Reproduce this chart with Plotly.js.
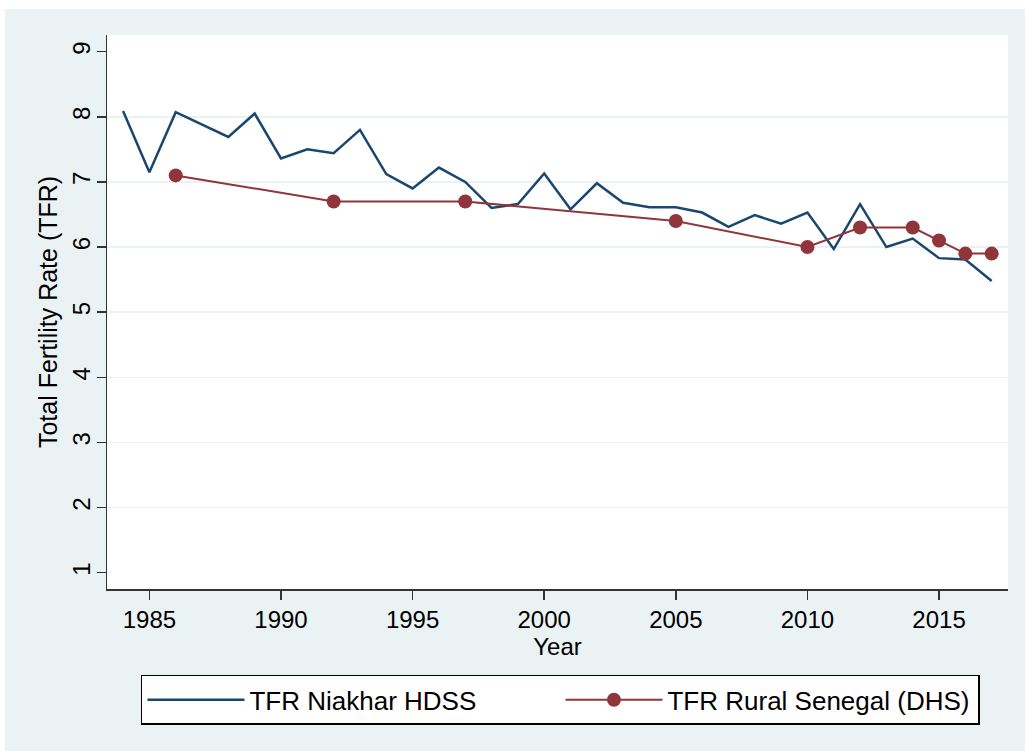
<!DOCTYPE html>
<html>
<head>
<meta charset="utf-8">
<script src="https://cdn.plot.ly/plotly-3.0.1.min.js"></script>
<style>
html, body { margin: 0; padding: 0; background: #ffffff; }
#chart { position: absolute; left: 5px; top: 9px; width: 1020px; height: 742px; }
</style>
</head>
<body>
<div id="chart"></div>
<script>
// Niakhar HDSS total fertility rate, by year
const hdssYears = [1984, 1985, 1986, 1987, 1988, 1989, 1990, 1991, 1992, 1993, 1994, 1995, 1996, 1997, 1998, 1999, 2000,
                   2001, 2002, 2003, 2004, 2005, 2006, 2007, 2008, 2009, 2010, 2011, 2012, 2013, 2014, 2015, 2016, 2017];
const hdssTFR = [8.09, 7.15, 8.07, 7.88, 7.69, 8.05, 7.36, 7.50, 7.44, 7.80, 7.12, 6.90, 7.22, 7.00, 6.60, 6.66, 7.13,
                 6.58, 6.98, 6.68, 6.61, 6.61, 6.53, 6.31, 6.49, 6.36, 6.53, 5.97, 6.66, 6.00, 6.13, 5.83, 5.81, 5.48];

// Rural Senegal (DHS) total fertility rate
const dhsYears = [1986, 1992, 1997, 2005, 2010, 2012, 2014, 2015, 2016, 2017];
const dhsTFR = [7.1, 6.7, 6.7, 6.4, 6.0, 6.3, 6.3, 6.1, 5.9, 5.9];

const seriesNames = ["TFR Niakhar HDSS", "TFR Rural Senegal (DHS)"];
const xTicks = [1985, 1990, 1995, 2000, 2005, 2010, 2015];
const yTicks = [1, 2, 3, 4, 5, 6, 7, 8, 9];
const yGridTicks = [2, 3, 4, 5, 6, 7, 8];
const xTitle = "Year";
const yTitle = "Total Fertility Rate (TFR)";

const FONT = "Arial, 'Liberation Sans', sans-serif";
const yRange = [0.75, 9.256];

const traces = [
  {
    x: hdssYears, y: hdssTFR, name: seriesNames[0],
    type: "scatter", mode: "lines",
    line: { color: "#1a476f", width: 2.5 }
  },
  {
    x: dhsYears, y: dhsTFR, name: seriesNames[1],
    type: "scatter", mode: "lines+markers",
    line: { color: "#90353b", width: 2 },
    marker: { color: "#90353b", size: 14 }
  }
];

const layout = {
  width: 1020, height: 742,
  paper_bgcolor: "#eaf2f3",
  plot_bgcolor: "#ffffff",
  margin: { l: 102, r: 17, t: 26, b: 162 },
  font: { family: FONT, size: 24, color: "#000000" },
  showlegend: true,
  legend: {
    orientation: "h",
    x: 0.0377, xanchor: "left",
    y: -0.155, yanchor: "top",
    bgcolor: "#ffffff",
    bordercolor: "#000000",
    borderwidth: 1.5,
    font: { family: FONT, size: 26, color: "#000000" },
    itemwidth: 97,
    entrywidth: 306,
    entrywidthmode: "pixels",
    itemclick: false
  },
  xaxis: {
    range: [1983.39, 2017.62],
    tickvals: xTicks,
    ticks: "outside", ticklen: 9, tickwidth: 1.5, tickcolor: "#333333",
    showline: true, linecolor: "#333333", linewidth: 1.5,
    showgrid: false, zeroline: false,
    tickfont: { family: FONT, size: 24, color: "#000000" },
    title: { text: xTitle, font: { family: FONT, size: 24, color: "#000000" }, standoff: 2 }
  },
  yaxis: {
    range: yRange,
    tickvals: yTicks,
    tickangle: -90,
    ticklabelstandoff: -3,
    ticks: "outside", ticklen: 9, tickwidth: 1.5, tickcolor: "#333333",
    showline: true, linecolor: "#333333", linewidth: 1.5,
    showgrid: false, zeroline: false,
    tickfont: { family: FONT, size: 24, color: "#000000" },
    title: { text: yTitle, font: { family: FONT, size: 25, color: "#000000" }, standoff: 3 }
  },
  yaxis2: {
    range: yRange,
    overlaying: "y",
    tickvals: yGridTicks,
    showticklabels: false,
    ticks: "",
    showgrid: true, gridcolor: "#eaf2f3", gridwidth: 1.5,
    zeroline: false, showline: false
  }
};

// invisible helper trace so the grid axis is drawn
traces.push({ x: [hdssYears[0]], y: [hdssTFR[0]], yaxis: "y2", mode: "none", type: "scatter", showlegend: false, hoverinfo: "skip" });

Plotly.newPlot("chart", traces, layout, { displayModeBar: false, staticPlot: true });
</script>
</body>
</html>
